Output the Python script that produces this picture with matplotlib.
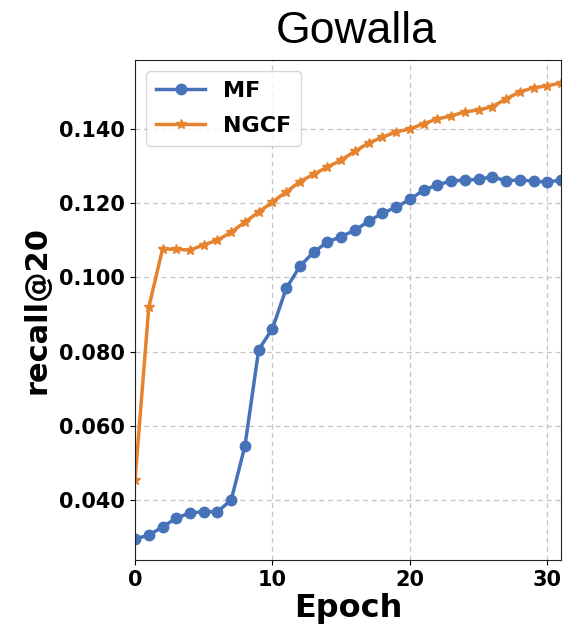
import matplotlib.pyplot as plt
import numpy as np

epochs = np.arange(32)
mf = [0.0295, 0.0305, 0.0327, 0.0351, 0.0365, 0.0368, 0.0368, 0.0400,
      0.0546, 0.0805, 0.0862, 0.0970, 0.1030, 0.1068, 0.1095, 0.1110,
      0.1127, 0.1151, 0.1173, 0.1189, 0.1210, 0.1235, 0.1249, 0.1260,
      0.1262, 0.1264, 0.1271, 0.1260, 0.1263, 0.1259, 0.1257, 0.1262]
ngcf = [0.0454, 0.0919, 0.1076, 0.1076, 0.1073, 0.1088, 0.1100, 0.1122,
        0.1149, 0.1176, 0.1203, 0.1230, 0.1258, 0.1278, 0.1297, 0.1316,
        0.1340, 0.1362, 0.1378, 0.1392, 0.1400, 0.1414, 0.1427, 0.1435,
        0.1446, 0.1451, 0.1460, 0.1481, 0.1500, 0.1511, 0.1516, 0.1524]
yticks = [0.04, 0.06, 0.08, 0.10, 0.12, 0.14]

fig = plt.figure(figsize=(5.65, 6.31), dpi=100)
ax = fig.add_axes([0.239, 0.1125, 0.754, 0.7925])

ax.plot(epochs, mf, "-o", color="#4572b8", lw=2.5, ms=7.5, label="MF")
ax.plot(epochs, ngcf, "-*", color="#e5832e", lw=2.5, ms=7, label="NGCF")

ax.set_xlim(0, 31)
ax.set_ylim(0.0238, 0.1586)
ax.set_xticks([0, 10, 20, 30])
ax.set_yticks(yticks)
ax.set_yticklabels(["%.3f" % v for v in yticks])
for lab in ax.get_xticklabels() + ax.get_yticklabels():
    lab.set_fontweight("bold")
    lab.set_fontsize(15)

ax.grid(True, linestyle=(0, (4, 3)), color="#c4c4c4", lw=0.9)
for s in ax.spines.values():
    s.set_color("#222222")

ax.set_xlabel("Epoch", fontsize=23, fontweight="bold", labelpad=2)
ax.set_ylabel("recall@20", fontsize=22, fontweight="bold", labelpad=6)
ax.set_title("Gowalla", fontsize=32, family="Liberation Sans", pad=12, x=0.52)

leg = ax.legend(loc="upper left", prop={"weight": "bold", "size": 16},
                handlelength=2.2, borderpad=0.45, labelspacing=0.65,
                handletextpad=0.8)

plt.savefig("out.png", dpi=100)
